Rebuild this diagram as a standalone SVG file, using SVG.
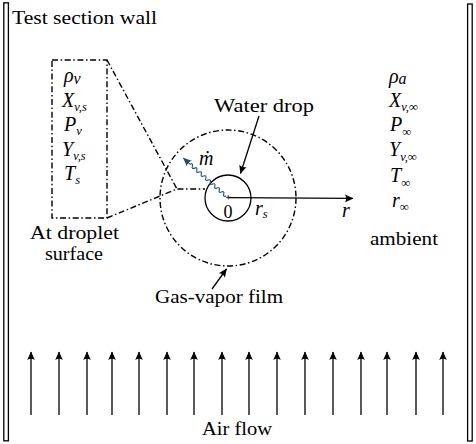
<svg xmlns="http://www.w3.org/2000/svg" width="476" height="444" viewBox="0 0 476 444">
<style>
.t{font-family:'Liberation Serif','Times New Roman','DejaVu Serif',serif;font-size:18px;fill:#000}
.mi{font-family:'Liberation Serif','Times New Roman','DejaVu Serif',serif;font-style:italic;font-size:20px;fill:#000}
.sb{font-size:12.5px}
.sb2{font-size:16px}
.ln{stroke:#000;stroke-width:1.3;fill:none}
.dd{stroke:#000;stroke-width:1.4;fill:none;stroke-dasharray:6 2.6 1.5 2.6}
.wall{stroke:#000;stroke-width:1.3;fill:#fff}
</style>
<defs>
<marker id="ah" viewBox="-10 -5 11 10" markerWidth="11" markerHeight="10" refX="0" refY="0" orient="auto" markerUnits="userSpaceOnUse">
<path d="M0.5,0 L-8,-3.8 Q-5.5,0 -8,3.8 Z" fill="#000"/>
</marker>
<marker id="ahb" viewBox="-10 -5 11 10" markerWidth="11" markerHeight="10" refX="0" refY="0" orient="auto" markerUnits="userSpaceOnUse">
<path d="M0.5,0 L-8,-3.8 Q-5.5,0 -8,3.8 Z" fill="#1f4d6b"/>
</marker>
</defs>

<g id="walls">
<rect class="wall" x="3.8" y="2.8" width="4.6" height="438"/>
<rect class="wall" x="467.6" y="4" width="4.6" height="437"/>
<text class="t" x="12" y="24" textLength="145" lengthAdjust="spacingAndGlyphs">Test section wall</text>
</g>

<g id="surface-box">
<rect class="dd" x="52" y="60" width="55" height="158"/>
<text class="mi" x="64" y="82">ρ<tspan class="sb2" dy="2">v</tspan></text>
<text class="mi" x="62" y="107">X<tspan class="sb" dy="4">v,s</tspan></text>
<text class="mi" x="64" y="131">P<tspan class="sb" dy="4">v</tspan></text>
<text class="mi" x="62" y="156">Y<tspan class="sb" dy="4">v,s</tspan></text>
<text class="mi" x="64" y="180">T<tspan class="sb" dy="4">s</tspan></text>
<text class="t" x="30" y="239" textLength="89" lengthAdjust="spacingAndGlyphs">At droplet</text>
<text class="t" x="45" y="260" textLength="58" lengthAdjust="spacingAndGlyphs">surface</text>
</g>

<g id="film">
<circle class="dd" cx="228" cy="198" r="68"/>
<text class="t" x="155" y="303" textLength="128" lengthAdjust="spacingAndGlyphs">Gas-vapor film</text>
</g>

<g id="drop">
<circle class="ln" cx="228" cy="198" r="23"/>
<path d="M226,197.3 H230.5 M228.2,195.2 V199.4" stroke="#000" stroke-width="0.8"/>
<text class="t" x="228" y="218" text-anchor="middle">0</text>
<text class="mi" x="255" y="215">r<tspan class="sb" dy="3">s</tspan></text>
<text class="t" x="214" y="112" textLength="100" lengthAdjust="spacingAndGlyphs">Water drop</text>
<text class="mi" x="199" y="165">ṁ</text>
</g>

<g id="ambient">
<text class="mi" x="389" y="83">ρ<tspan class="sb2" dy="1">a</tspan></text>
<text class="mi" x="389" y="107">X<tspan class="sb" dy="4">v,∞</tspan></text>
<text class="mi" x="390" y="131">P<tspan class="sb" dy="5">∞</tspan></text>
<text class="mi" x="389" y="156">Y<tspan class="sb" dy="5">v,∞</tspan></text>
<text class="mi" x="390" y="182">T<tspan class="sb" dy="5">∞</tspan></text>
<text class="mi" x="392" y="207">r<tspan class="sb" dy="4">∞</tspan></text>
<text class="t" x="370" y="245" textLength="68" lengthAdjust="spacingAndGlyphs">ambient</text>
<text class="mi" x="342" y="217">r</text>
</g>

<g id="airflow">
<text class="t" x="202" y="435" textLength="70" lengthAdjust="spacingAndGlyphs">Air flow</text>
</g>

<g id="connectors">
<path class="dd" d="M107,60 L177,189 M107,218 L177,189 L205,189"/>
<line class="ln" x1="229" y1="197.6" x2="353" y2="198.4" marker-end="url(#ah)"/>
<line class="ln" x1="259" y1="116" x2="240.5" y2="173.5" marker-end="url(#ah)"/>
<line class="ln" x1="212" y1="289" x2="226.5" y2="269" marker-end="url(#ah)"/>
<g transform="translate(226,196) rotate(-138.4)">
<path d="M0,0 q1.5,-3 3,0 t3,0 t3,0 t3,0 t3,0 t3,0 t3,0 t3,0 t3,0 t3,0 t3,0 t3,0 t3,0 t3,0 t3,0 t3,0 L57,0" stroke="#1f4d6b" stroke-width="1.1" fill="none" marker-end="url(#ahb)"/>
</g>
<g class="ln" marker-end="url(#ah)">
<line x1="31" y1="415" x2="31" y2="352"/>
<line x1="59" y1="415" x2="59" y2="352"/>
<line x1="87" y1="415" x2="87" y2="352"/>
<line x1="112" y1="415" x2="112" y2="352"/>
<line x1="139" y1="415" x2="139" y2="352"/>
<line x1="167" y1="415" x2="167" y2="352"/>
<line x1="194" y1="415" x2="194" y2="352"/>
<line x1="222" y1="415" x2="222" y2="352"/>
<line x1="249" y1="415" x2="249" y2="352"/>
<line x1="277" y1="415" x2="277" y2="352"/>
<line x1="305" y1="415" x2="305" y2="352"/>
<line x1="333" y1="415" x2="333" y2="352"/>
<line x1="361" y1="415" x2="361" y2="352"/>
<line x1="387" y1="415" x2="387" y2="352"/>
<line x1="416" y1="415" x2="416" y2="352"/>
<line x1="443" y1="415" x2="443" y2="352"/>
</g>
</g>
</svg>
